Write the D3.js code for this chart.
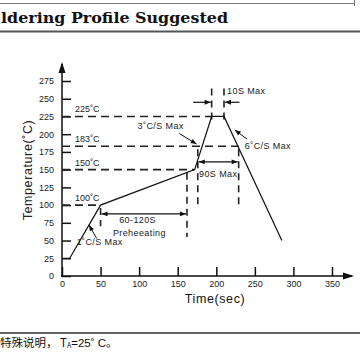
<!DOCTYPE html>
<html><head><meta charset="utf-8">
<script src="https://cdn.jsdelivr.net/npm/d3@7"></script>
<style>body{margin:0;background:#fff}svg{display:block}</style>
</head><body>
<script>
const profileTime = [0, 10, 50, 172, 194, 210, 285];
const profileTemp = [25, 25, 100, 150, 225, 225, 50];
const yTicks = [0,25,50,75,100,125,150,175,200,225,250,275];
const xTicks = [0,50,100,150,200,250,300,350];
const refTemps = [225, 183, 150, 100];
const refEndTimes = [194, 229, 172, 50];
const refLabels = ["225˚C", "183˚C", "150˚C", "100˚C"];
const title = "ldering Profile Suggested";

const W = 360, H = 360;
const svg = d3.select("body").append("svg").attr("width", W).attr("height", H);
const x = d3.scaleLinear().domain([0, 350]).range([62, 332]);
const y = d3.scaleLinear().domain([0, 275]).range([276, 81]);
const font = "'Liberation Sans', Arial, sans-serif";

// frame lines
svg.append("line").attr("x1",0).attr("x2",354).attr("y1",3.5).attr("y2",3.5).attr("stroke","#777").attr("stroke-width",1);
svg.append("line").attr("x1",354.5).attr("x2",354.5).attr("y1",0).attr("y2",6).attr("stroke","#777");
svg.append("line").attr("x1",0).attr("x2",W).attr("y1",31.5).attr("y2",31.5).attr("stroke","#555").attr("stroke-width",2);
svg.append("line").attr("x1",0).attr("x2",W).attr("y1",333).attr("y2",333).attr("stroke","#333").attr("stroke-width",1.5);
svg.append("text").attr("x",1).attr("y",23).attr("font-family","'DejaVu Serif', 'Liberation Serif', serif")
  .attr("font-weight","bold").attr("font-size",14).attr("fill","#111")
  .attr("textLength",227).attr("lengthAdjust","spacingAndGlyphs").text(title);
const nt = svg.append("text").attr("x",0).attr("y",347).attr("font-family","'Noto Sans CJK SC', sans-serif").attr("font-size",11.5).attr("fill","#111");
nt.append("tspan").text("特殊说明，  T");
nt.append("tspan").attr("font-size",7).attr("dy",1).text("A");
nt.append("tspan").attr("dy",-1).attr("font-family",font).text("=25˚ C");
nt.append("tspan").text("。");

// defs arrow
const defs = svg.append("defs");
defs.append("marker").attr("id","ah").attr("viewBox","0 0 10 10").attr("refX",10).attr("refY",5)
  .attr("markerWidth",7).attr("markerHeight",6).attr("orient","auto-start-reverse").attr("markerUnits","userSpaceOnUse")
  .append("path").attr("d","M0,1 L10,5 L0,9 Z").attr("fill","#111");

// axes
const ya = svg.append("g").attr("transform",`translate(${x(0)},0)`)
  .call(d3.axisLeft(y).tickValues(yTicks).tickSize(-9).tickPadding(8));
const xa = svg.append("g").attr("transform",`translate(0,${y(0)})`)
  .call(d3.axisBottom(x).tickValues(xTicks).tickSize(-9).tickPadding(5));
[ya, xa].forEach(g => {
  g.select(".domain").remove();
  g.selectAll("line").attr("stroke","#111").attr("stroke-width",1.5);
  g.selectAll("text").attr("font-family",font).attr("font-size",9).attr("fill","#222");
});
svg.append("line").attr("x1",x(0)).attr("x2",x(0)).attr("y1",y(0)+1).attr("y2",64).attr("stroke","#111").attr("stroke-width",1.5);
svg.append("path").attr("d",`M${x(0)},62 L${x(0)-3.5},73 L${x(0)+3.5},73 Z`).attr("fill","#111");
svg.append("line").attr("x1",x(0)-1).attr("x2",352).attr("y1",y(0)).attr("y2",y(0)).attr("stroke","#111").attr("stroke-width",1.5);
svg.append("path").attr("d",`M354,${y(0)} L343,${y(0)-3.5} L343,${y(0)+3.5} Z`).attr("fill","#111");

svg.append("text").attr("transform",`translate(32,170) rotate(-90)`).attr("text-anchor","middle")
  .attr("font-family",font).attr("font-size",12.5).attr("fill","#222").attr("letter-spacing",0.6).text("Temperature(˚C)");
svg.append("text").attr("x",215).attr("y",303).attr("text-anchor","middle")
  .attr("font-family",font).attr("font-size",12.5).attr("fill","#111").attr("letter-spacing",0.6).text("Time(sec)");

// reference dashed lines
const dash = "8,5";
refTemps.forEach((t,i) => {
  svg.append("line").attr("x1",x(0)).attr("x2",x(refEndTimes[i])).attr("y1",y(t)).attr("y2",y(t))
    .attr("stroke","#222").attr("stroke-width",1.6).attr("stroke-dasharray",dash);
  svg.append("text").attr("x",x(17)).attr("y",y(t)-4).attr("font-family",font).attr("font-size",9).attr("fill","#222").text(refLabels[i]);
});

// vertical dashed markers
const vmarks = [[50,100,70],[162,150,55],[176,183,97],[229,183,97],[194,225,270],[210,225,270]];
vmarks.forEach(([t,a,b]) => {
  svg.append("line").attr("x1",x(t)).attr("x2",x(t)).attr("y1",y(a)+3).attr("y2",y(b))
    .attr("stroke","#222").attr("stroke-width",1.6).attr("stroke-dasharray","7,5");
});

// profile
const pts = profileTime.map((t,i)=>[x(t), y(profileTemp[i])]);
svg.append("path").attr("d", d3.line()(pts)).attr("fill","none").attr("stroke","#111").attr("stroke-width",1.2);

// dimension arrows
function darrow(t1,t2,temp){
  svg.append("line").attr("x1",x(t1)+1).attr("x2",x(t2)-1).attr("y1",y(temp)).attr("y2",y(temp))
    .attr("stroke","#111").attr("stroke-width",1.2).attr("marker-start","url(#ah)").attr("marker-end","url(#ah)");
}
darrow(50,162,87.5);
darrow(176,229,161);
svg.append("line").attr("x1",x(170)).attr("x2",x(194)-1).attr("y1",y(245)).attr("y2",y(245))
  .attr("stroke","#111").attr("stroke-width",1.2).attr("marker-end","url(#ah)");
svg.append("line").attr("x1",x(230)).attr("x2",x(210)+1).attr("y1",y(245)).attr("y2",y(245))
  .attr("stroke","#111").attr("stroke-width",1.2).attr("marker-end","url(#ah)");

// pointer arrows
function pointer(x1,y1,x2,y2){
  svg.append("line").attr("x1",x1).attr("y1",y1).attr("x2",x2).attr("y2",y2)
    .attr("stroke","#111").attr("stroke-width",1).attr("marker-end","url(#ah)");
}
pointer(x(152), y(201), x(174.5), y(186));
pointer(x(240), y(193), x(224), y(206));
pointer(x(45), y(53), x(35), y(72));

function label(t, xx, yy, anchor){
  svg.append("text").attr("x",xx).attr("y",yy).attr("text-anchor",anchor||"start")
    .attr("font-family",font).attr("font-size",9).attr("fill","#222").attr("letter-spacing",0.4).text(t);
}
label("3˚C/S Max", x(98), y(207));
label("6˚C/S Max", x(237), y(179));
label("1˚C/S Max", x(19), y(44));
label("60-120S", x(98), y(75), "middle");
label("Preheeating", x(66), y(56));
label("90S Max", x(202.5), y(140), "middle");
label("10S Max", x(214), y(256));
</script>
</body></html>
